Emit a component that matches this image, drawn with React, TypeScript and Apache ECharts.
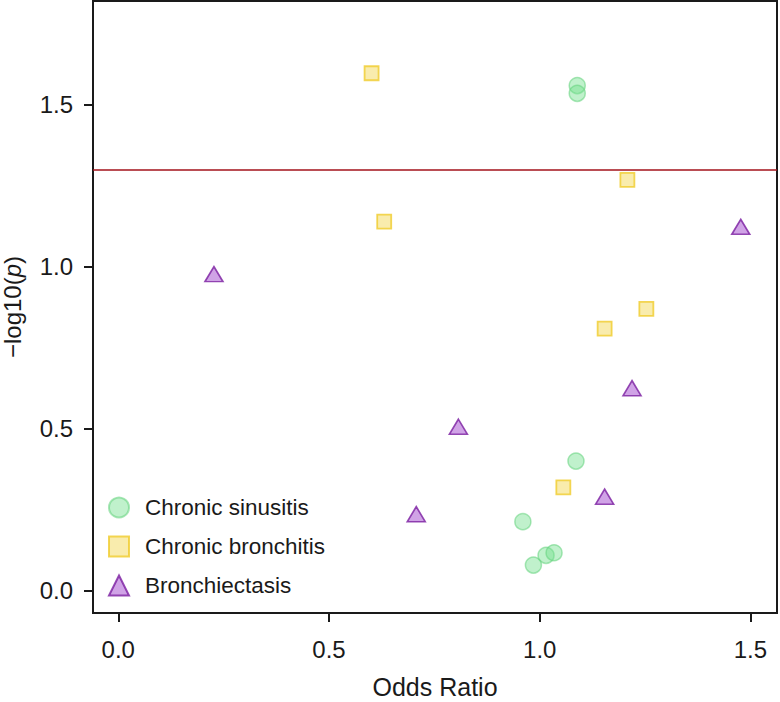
import React, { useEffect, useRef } from "react";
import * as echarts from "echarts";

// Chronic sinusitis: [odds ratio, -log10(p)]
const sinusitisOR = [1.089, 1.089, 1.086, 0.96, 1.015, 1.034, 0.985];
const sinusitisP = [1.559, 1.535, 0.4, 0.213, 0.109, 0.117, 0.079];

const bronchitisOR = [0.601, 0.631, 1.208, 1.253, 1.154, 1.056];
const bronchitisP = [1.597, 1.139, 1.268, 0.87, 0.809, 0.319];

const bronchiectasisOR = [0.227, 0.807, 0.707, 1.477, 1.219, 1.154];
const bronchiectasisP = [0.977, 0.506, 0.236, 1.123, 0.625, 0.29];

const xTicks = [0, 0.5, 1.0, 1.5];
const yTicks = [0, 0.5, 1.0, 1.5];
const threshold = -Math.log10(0.05);

const seriesNames = ["Chronic sinusitis", "Chronic bronchitis", "Bronchiectasis"];

const FONT = "'Liberation Sans', Arial, Helvetica, sans-serif";
const INK = "#1a1a1a";

function pairs(xs: number[], ys: number[]) {
  return xs.map((x, i) => [x, ys[i]]);
}

export default function App() {
  const ref = useRef<HTMLDivElement>(null);

  useEffect(() => {
    if (!ref.current) return;
    const chart = echarts.init(ref.current, undefined, { renderer: "svg" });
    chart.setOption({
      animation: false,
      backgroundColor: "#ffffff",
      textStyle: { fontFamily: FONT },
      grid: {
        left: 93,
        right: 3,
        top: 1,
        bottom: 89,
        containLabel: false,
        outerBoundsMode: "none",
        show: true,
        borderColor: INK,
        borderWidth: 2,
        backgroundColor: "transparent",
      },
      legend: {
        orient: "vertical",
        left: 108,
        top: 496,
        padding: 0,
        itemWidth: 20,
        itemHeight: 20,
        itemGap: 16,
        textStyle: {
          fontFamily: FONT,
          fontSize: 22.5,
          lineHeight: 20,
          color: INK,
          padding: [0, 0, 0, 11],
        },
        data: seriesNames,
      },
      xAxis: {
        type: "value",
        min: -0.06,
        max: 1.563,
        name: "Odds Ratio",
        nameLocation: "middle",
        nameGap: 61,
        nameTextStyle: { fontFamily: FONT, fontSize: 25, color: INK },
        splitLine: { show: false },
        axisLine: { show: false, onZero: false },
        axisTick: {
          show: true,
          customValues: xTicks,
          length: 9,
          lineStyle: { color: INK, width: 2 },
        },
        axisLabel: {
          customValues: xTicks,
          formatter: (v: number) => v.toFixed(1),
          fontFamily: FONT,
          fontSize: 24,
          color: INK,
          margin: 24,
        },
      },
      yAxis: {
        type: "value",
        min: -0.069,
        max: 1.82,
        name: "\u2212log10({i|p})",
        nameLocation: "middle",
        nameGap: 69,
        nameRotate: 90,
        nameTextStyle: {
          fontFamily: FONT,
          fontSize: 24,
          color: INK,
          rich: {
            i: { fontFamily: FONT, fontSize: 24, fontStyle: "italic", color: INK },
          },
        },
        splitLine: { show: false },
        axisLine: { show: false, onZero: false },
        axisTick: {
          show: true,
          customValues: yTicks,
          length: 9,
          lineStyle: { color: INK, width: 2 },
        },
        axisLabel: {
          customValues: yTicks,
          formatter: (v: number) => v.toFixed(1),
          fontFamily: FONT,
          fontSize: 24,
          color: INK,
          margin: 20,
        },
      },
      series: [
        {
          name: seriesNames[0],
          type: "scatter",
          symbol: "circle",
          symbolSize: 16,
          data: pairs(sinusitisOR, sinusitisP),
          itemStyle: {
            color: "rgba(112, 222, 138, 0.55)",
            borderColor: "rgba(100, 210, 125, 0.7)",
            borderWidth: 1.5,
          },
          markLine: {
            silent: true,
            symbol: ["none", "none"],
            label: { show: false },
            lineStyle: { color: "#a3121a", width: 1.7, type: "solid" },
            data: [{ yAxis: threshold }],
          },
          z: 3,
        },
        {
          name: seriesNames[1],
          type: "scatter",
          symbol: "rect",
          symbolSize: 14,
          data: pairs(bronchitisOR, bronchitisP),
          itemStyle: {
            color: "#f8e799",
            borderColor: "#f0cc2c",
            borderWidth: 1.8,
          },
          z: 3,
        },
        {
          name: seriesNames[2],
          type: "scatter",
          symbol: "triangle",
          symbolSize: [18, 15],
          data: pairs(bronchiectasisOR, bronchiectasisP),
          itemStyle: {
            color: "#c48ce0",
            borderColor: "#7a1ea0",
            borderWidth: 1.6,
          },
          z: 3,
        },
      ],
    });
    return () => chart.dispose();
  }, []);

  return (
    <div
      ref={ref}
      style={{ position: "fixed", left: 0, top: 0, width: 780, height: 702, background: "#fff" }}
    />
  );
}
